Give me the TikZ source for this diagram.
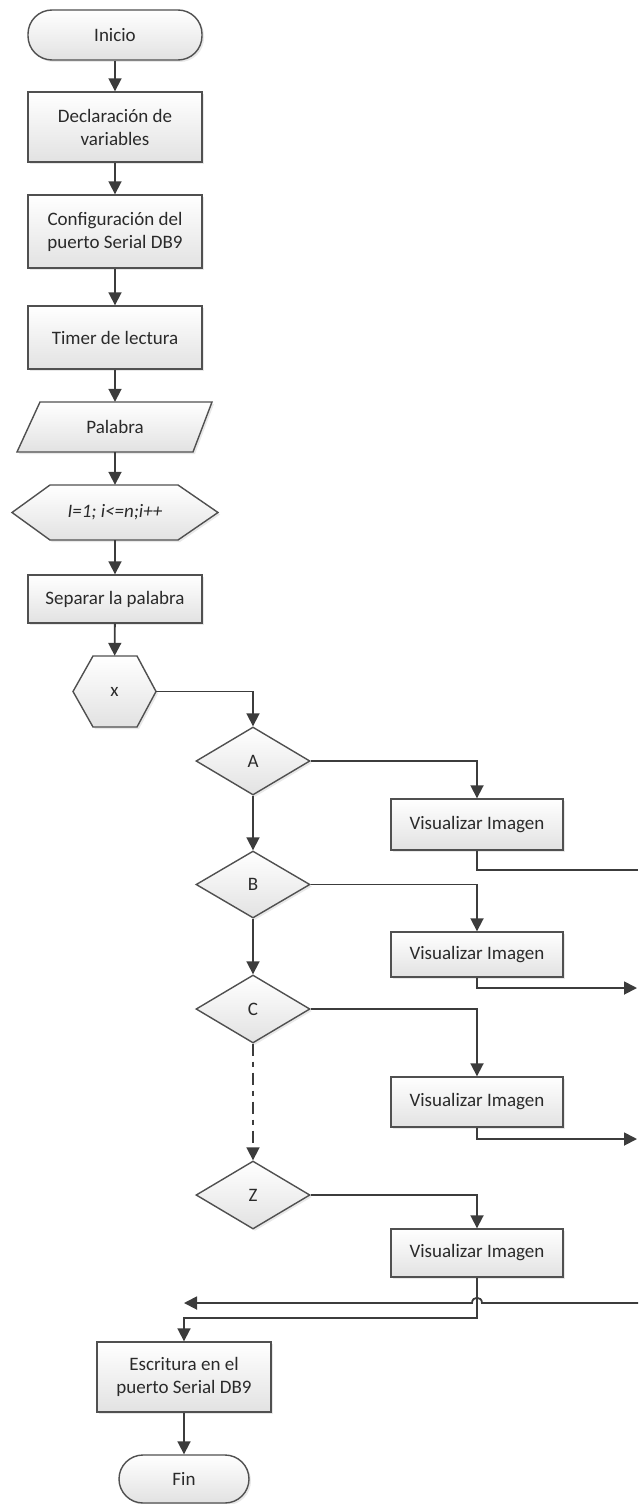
\documentclass[tikz,border=0pt]{standalone}
\usepackage{fontspec}
\setmainfont{Carlito}
\usetikzlibrary{arrows.meta,shadows,shapes.geometric}
\definecolor{lncol}{HTML}{3C3C3C}
\definecolor{bdcol}{HTML}{505050}
\definecolor{fillb}{HTML}{E2E2E2}
\definecolor{txtcol}{HTML}{2A2A2A}
\tikzset{
  ln/.style={draw=lncol, line width=1.8pt},
  arr/.style={ln, -{Triangle[length=13pt,width=13pt]}},
  shp/.style={draw=bdcol, line width=1.4pt, top color=white, bottom color=fillb,
    drop shadow={shadow xshift=2pt,shadow yshift=-2pt,opacity=0.18}},
  txt/.style={text=txtcol, font=\fontsize{19}{23}\selectfont, align=center, inner sep=0pt},
  proc/.style={shp, txt, rectangle, minimum width=174pt},
  vis/.style={proc, minimum width=172pt},
  dec/.style={shp, txt, diamond, minimum width=114pt, minimum height=68pt},
  term/.style={shp, txt, rectangle, rounded corners=24pt},
}
\begin{document}
\begin{tikzpicture}[x=1pt,y=-1pt]
\useasboundingbox (0,0) rectangle (638,1504);
% terminals and processes
\node[term, minimum width=174pt, minimum height=50pt] (inicio) at (115,35) {Inicio};
\node[proc, minimum height=70pt] (decl) at (115,127) {Declaración de\\variables};
\node[proc, minimum height=73pt] (config) at (115,231.5) {Configuración del\\puerto Serial DB9};
\node[proc, minimum height=63pt] (timer) at (115,337.5) {Timer de lectura};
% parallelogram
\path[shp] (40,402) -- (212,402) -- (193,452) -- (17,452) -- cycle;
\node[txt, minimum width=195pt, minimum height=50pt] (palabra) at (115,427) {Palabra};
% loop hexagon
\path[shp] (12,512.5) -- (50,485) -- (178,485) -- (218,512.5) -- (178,540) -- (50,540) -- cycle;
\node[txt, minimum width=206pt, minimum height=55pt] (loop) at (115,512.5) {\itshape I=1; i<=n;i++};
\node[proc, minimum height=48pt] (separar) at (115,599) {Separar la palabra};
% x hexagon
\path[shp] (73,691.5) -- (93,656) -- (137,656) -- (156,691.5) -- (137,727) -- (93,727) -- cycle;
\node[txt, minimum width=83pt, minimum height=71pt] (xh) at (114.5,691.5) {x};
% decisions
\node[dec] (A) at (253,761) {A};
\node[dec, minimum height=67pt] (B) at (253,884.5) {B};
\node[dec] (C) at (253,1009) {C};
\node[dec] (Z) at (253,1195) {Z};
% visualizar boxes
\node[vis, minimum height=51pt] (v1) at (477,824.5) {Visualizar Imagen};
\node[vis, minimum height=45pt] (v2) at (477,954.5) {Visualizar Imagen};
\node[vis, minimum height=50pt] (v3) at (477,1102) {Visualizar Imagen};
\node[vis, minimum height=48pt] (v4) at (477,1253) {Visualizar Imagen};
% end
\node[proc, minimum height=70pt] (escr) at (184,1377) {Escritura en el\\puerto Serial DB9};
\node[term, minimum width=130pt, minimum height=48pt] (fin) at (184,1479) {Fin};
% free ends
\coordinate (e1) at (638,870);
\coordinate (e2) at (637,988);
\coordinate (e3) at (637,1139);
\coordinate (r) at (638,1303);
\coordinate (rl) at (184,1303);
% connectors
\draw[arr] (inicio) -- (decl);
\draw[arr] (decl) -- (config);
\draw[arr] (config) -- (timer);
\draw[arr] (timer) -- (palabra);
\draw[arr] (palabra) -- (loop);
\draw[arr] (loop) -- (separar);
\draw[arr] (separar) -- (xh);
\draw[arr] (xh.east) -| (A.north);
\draw[arr] (A.east) -| (v1.north);
\draw[arr] (A) -- (B);
\draw[ln] (v1.south) |- (e1);
\draw[arr] (B.east) -| (v2.north);
\draw[arr] (B) -- (C);
\draw[arr] (v2.south) |- (e2);
\draw[arr] (C.east) -| (v3.north);
\draw[arr, dash pattern=on 12pt off 6pt on 5pt off 6pt] (C) -- (Z);
\draw[arr] (v3.south) |- (e3);
\draw[arr] (Z.east) -| (v4.north);
\draw[arr] (v4.south) -- ++(0,40) -| (escr.north);
\draw[arr] (r) -- (482,1303) .. controls (482,1296) and (472,1296) .. (472,1303) -- (rl);
\draw[arr] (escr) -- (fin);
\end{tikzpicture}
\end{document}
